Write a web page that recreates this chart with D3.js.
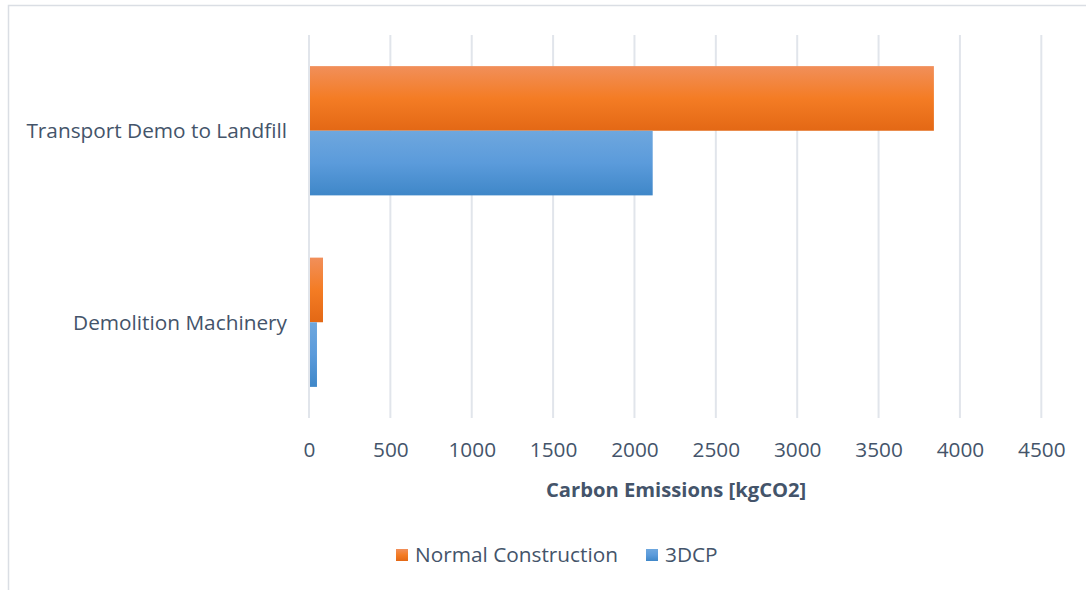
<!DOCTYPE html>
<html>
<head>
<meta charset="utf-8">
<script src="https://cdn.jsdelivr.net/npm/d3@7"></script>
<style>
  html, body { margin: 0; padding: 0; background: #fff; }
  svg { display: block; }
</style>
</head>
<body>
<svg id="chart" width="1086" height="590"></svg>
<script>
// Categories (top to bottom) and series values in kgCO2
const categories = ["Transport Demo to Landfill", "Demolition Machinery"];
const seriesNames = ["Normal Construction", "3DCP"];
const normalConstruction = [3840, 86];
const dcp = [2112, 49];
const tickValues = [0, 500, 1000, 1500, 2000, 2500, 3000, 3500, 4000, 4500];
const axisTitle = "Carbon Emissions [kgCO2]";

const FONT = "'Open Sans', 'Noto Sans', sans-serif";
const TEXT = "#44546A";
const GRID = "#E1E5EB";

const svg = d3.select("#chart");
const W = 1086, H = 590;

// chart frame (left and top edges visible)
svg.append("path")
  .attr("d", `M8.5,${H} L8.5,5.5 L${W},5.5`)
  .attr("fill", "none").attr("stroke", "#DADEE4").attr("stroke-width", 1.5);

const plot = { left: 309, right: 1041.3, top: 35, bottom: 418 };

const x = d3.scaleLinear().domain([0, 4500]).range([plot.left, plot.right]);
const y = d3.scaleBand().domain(categories).range([plot.top, plot.bottom]).paddingInner(0.325).paddingOuter(0.1625);
const y1 = d3.scaleBand().domain(seriesNames).range([0, y.bandwidth()]);

// gradients
const defs = svg.append("defs");
const grads = {
  "Normal Construction": [["0%", "#F18F5A"], ["50%", "#F47C24"], ["100%", "#E36815"]],
  "3DCP": [["0%", "#6EA7DE"], ["50%", "#5B9BDB"], ["100%", "#3F87C8"]]
};
const gradId = {};
seriesNames.forEach((s, i) => {
  const id = "g" + i;
  gradId[s] = id;
  const g = defs.append("linearGradient").attr("id", id)
    .attr("x1", 0).attr("y1", 0).attr("x2", 0).attr("y2", 1);
  grads[s].forEach(([o, c]) => g.append("stop").attr("offset", o).attr("stop-color", c));
});

// gridlines
svg.append("g").selectAll("line").data(tickValues).join("line")
  .attr("x1", d => x(d)).attr("x2", d => x(d))
  .attr("y1", plot.top).attr("y2", plot.bottom)
  .attr("stroke", GRID).attr("stroke-width", 2);

// bars
const rows = categories.map((c, i) => ({
  cat: c,
  vals: [
    { s: seriesNames[0], v: normalConstruction[i] },
    { s: seriesNames[1], v: dcp[i] }
  ]
}));

svg.append("g").selectAll("g").data(rows).join("g")
  .attr("transform", d => `translate(0,${y(d.cat)})`)
  .selectAll("rect").data(d => d.vals).join("rect")
  .attr("x", x(0) + 1)
  .attr("y", d => y1(d.s))
  .attr("width", d => x(d.v) - x(0) - 1)
  .attr("height", y1.bandwidth())
  .attr("fill", d => `url(#${gradId[d.s]})`);

// category axis labels
svg.append("g").selectAll("text").data(categories).join("text")
  .attr("x", 287)
  .attr("y", d => y(d) + y.bandwidth() / 2)
  .attr("dy", "0.35em")
  .attr("text-anchor", "end")
  .attr("font-family", FONT).attr("font-size", 20.8).attr("fill", TEXT)
  .text(d => d);

// value axis
const xAxis = d3.axisBottom(x).tickValues(tickValues).tickSize(0).tickPadding(0).tickFormat(d3.format("d"));
const ax = svg.append("g").attr("transform", `translate(0,${plot.bottom + 32})`).call(xAxis);
ax.select(".domain").remove();
ax.selectAll("text")
  .attr("font-family", FONT).attr("font-size", 20.8).attr("fill", TEXT)
  .attr("dy", "0.35em");

svg.append("text")
  .attr("x", (plot.left + plot.right) / 2 + 1)
  .attr("y", 490).attr("dy", "0.35em")
  .attr("text-anchor", "middle")
  .attr("font-family", FONT).attr("font-weight", "bold").attr("font-size", 20.2).attr("fill", TEXT)
  .text(axisTitle);

// legend
const legendX = [396, 646];
const lg = svg.append("g").selectAll("g").data(seriesNames).join("g")
  .attr("transform", (d, i) => `translate(${legendX[i]},555)`);
lg.append("rect").attr("x", 0).attr("y", -6).attr("width", 12).attr("height", 12)
  .attr("fill", d => `url(#${gradId[d]})`);
lg.append("text").attr("x", 19).attr("dy", "0.35em")
  .attr("font-family", FONT).attr("font-size", 20.8).attr("fill", TEXT)
  .text(d => d);
</script>
</body>
</html>
